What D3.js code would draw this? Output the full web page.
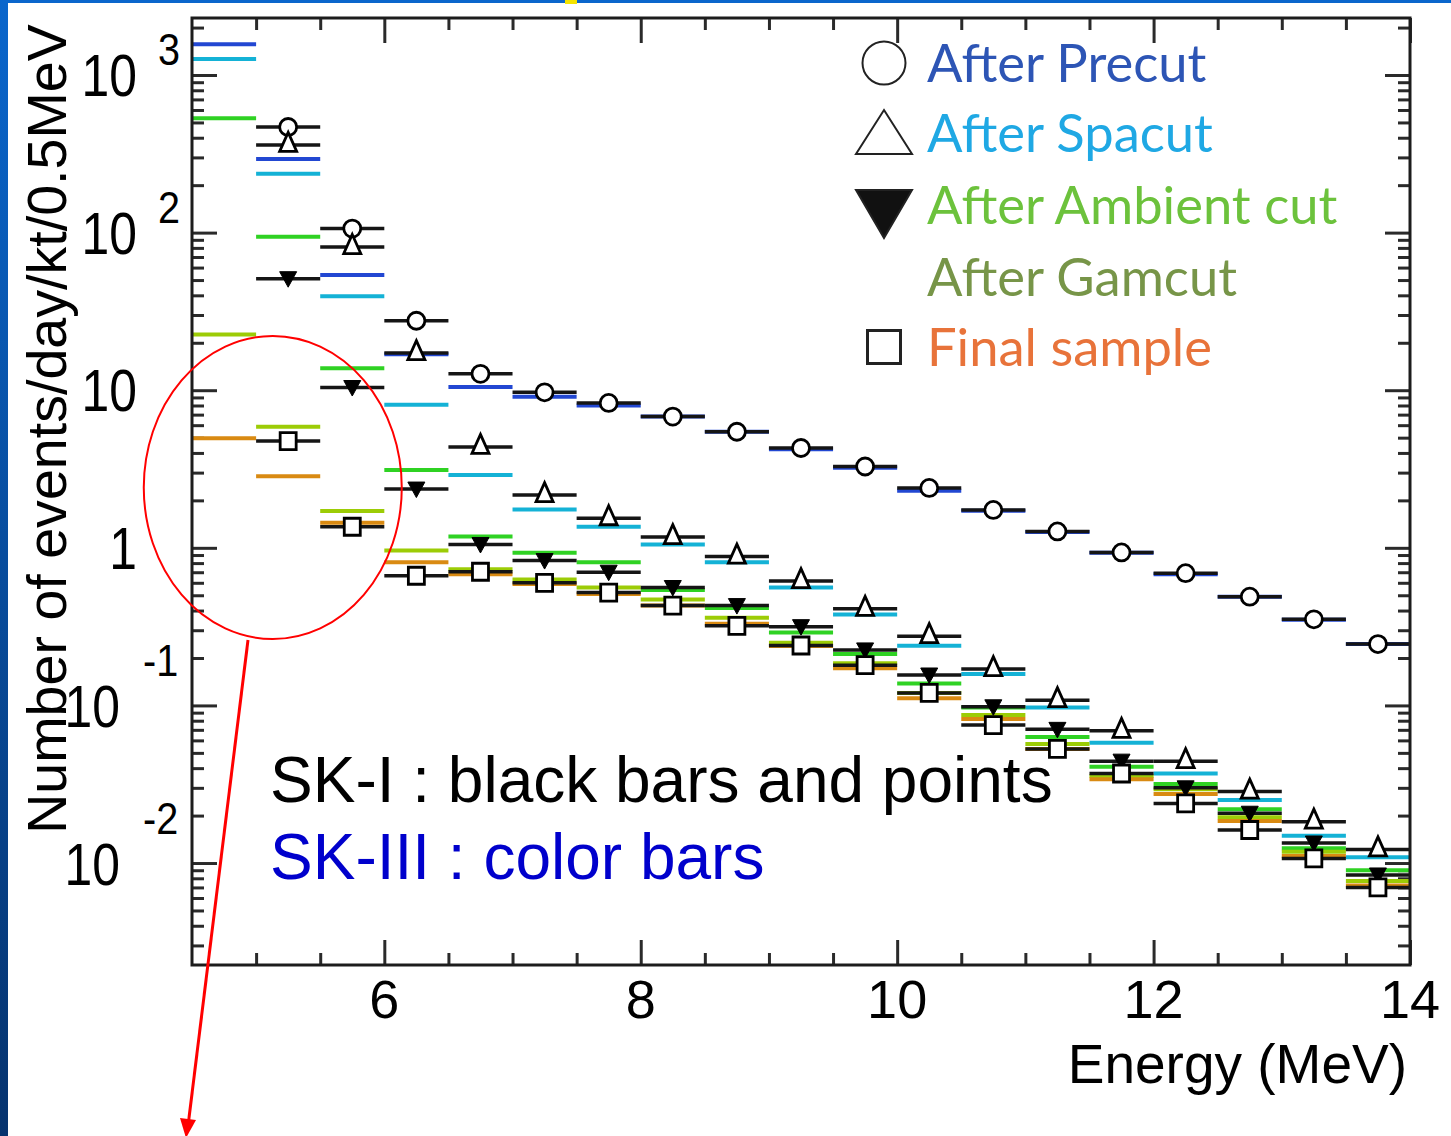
<!DOCTYPE html>
<html>
<head>
<meta charset="utf-8">
<script src="https://cdn.jsdelivr.net/npm/d3@7"></script>
<style>
  html, body { margin: 0; padding: 0; background: #fff; }
  svg { display: block; }
</style>
</head>
<body>
<svg id="chart" width="1451" height="1136"></svg>
<script>
// Energy bins (low edge, MeV); each bin is 0.5 MeV wide
const binLow = [4.5, 5.0, 5.5, 6.0, 6.5, 7.0, 7.5, 8.0, 8.5, 9.0, 9.5, 10.0, 10.5, 11.0, 11.5, 12.0, 12.5, 13.0, 13.5];
const binWidth = 0.5;

// SK-I (black bars + markers), events/day/kt/0.5MeV
const skIPrecut  = [null, 468, 106, 27.6, 12.7, 9.7, 8.3, 6.8, 5.45, 4.3, 3.28, 2.4, 1.74, 1.27, 0.935, 0.69, 0.49, 0.352, 0.245];
const skISpacut  = [null, 360, 81, 17.2, 4.37, 2.16, 1.54, 1.17, 0.88, 0.615, 0.41, 0.275, 0.17, 0.108, 0.069, 0.0443, 0.0284, 0.0183, 0.0122];
const skIAmbient = [null, 51, 10.4, 2.36, 1.05, 0.83, 0.70, 0.56, 0.43, 0.316, 0.225, 0.156, 0.098, 0.0705, 0.0443, 0.030, 0.0207, 0.0134, 0.0084];
const skIFinal   = [null, 4.76, 1.36, 0.665, 0.705, 0.60, 0.52, 0.43, 0.32, 0.24, 0.18, 0.12, 0.075, 0.053, 0.037, 0.0239, 0.0162, 0.0107, 0.0070];

// SK-III (colour bars)
const skIIIPrecut  = [1567, 293, 53.8, 16.9, 10.5, 9.1, 8.0, 6.8, 5.45, 4.22, 3.22, 2.3, 1.72, 1.26, 0.93, 0.68, 0.49, 0.35, 0.245];
const skIIISpacut  = [1263, 236, 39.4, 8.1, 2.90, 1.75, 1.36, 1.05, 0.81, 0.56, 0.378, 0.239, 0.158, 0.097, 0.058, 0.037, 0.0251, 0.0149, 0.0109];
const skIIIAmbient = [531, 94, 13.8, 3.12, 1.18, 0.93, 0.81, 0.54, 0.415, 0.29, 0.212, 0.138, 0.097, 0.063, 0.0408, 0.0317, 0.0219, 0.0124, 0.0090];
const skIIIGamcut  = [22.6, 5.87, 1.71, 0.96, 0.73, 0.63, 0.56, 0.47, 0.36, 0.25, 0.185, 0.12, 0.087, 0.057, 0.0356, 0.0294, 0.0195, 0.0118, 0.0077];
const skIIIFinal   = [4.95, 2.85, 1.44, 0.81, 0.68, 0.59, 0.51, 0.43, 0.33, 0.238, 0.172, 0.111, 0.082, 0.053, 0.034, 0.0274, 0.0185, 0.0111, 0.0072];

// Legend entries and tick labels
const legendLabels = ["After Precut", "After Spacut", "After Ambient cut", "After Gamcut", "Final sample"];
const xTickLabels = ["6", "8", "10", "12", "14"];
const yTickBase = ["10", "10", "10", "1", "10", "10"];
const yTickExp  = ["3", "2", "", "", "-1", "-2"];
const yTickExponent = [3, 2, 1, 0, -1, -2];

const svg = d3.select("#chart");
const W = 1451, H = 1136;
const plot = { left: 192, right: 1410, top: 18, bottom: 965 };
const axisFont = "'Liberation Sans', Arial, Helvetica, sans-serif";

// slide frame
const grad = svg.append("defs").append("linearGradient")
  .attr("id", "edge").attr("x1", 0).attr("y1", 0).attr("x2", 0).attr("y2", 1);
grad.append("stop").attr("offset", "0%").attr("stop-color", "#0a66cc");
grad.append("stop").attr("offset", "100%").attr("stop-color", "#06336e");
svg.append("rect").attr("x", 0).attr("y", 0).attr("width", W).attr("height", H).attr("fill", "#fff");
svg.append("rect").attr("x", 0).attr("y", 0).attr("width", 8).attr("height", H).attr("fill", "url(#edge)");
svg.append("rect").attr("x", 0).attr("y", 0).attr("width", W).attr("height", 3).attr("fill", "#0a66cc");
svg.append("rect").attr("x", 565).attr("y", 0).attr("width", 12).attr("height", 4).attr("fill", "#f5e400");

// scales
const x = d3.scaleLinear().domain([4.5, 14]).range([plot.left, plot.right]);
const y = d3.scaleLog().domain([Math.pow(10, -2.647), Math.pow(10, 3.3617)]).range([plot.bottom, plot.top]);

// axes: ticks drawn inward on all four sides
const xAll = x.ticks(19);
const xMajor = xAll.filter(v => v % 2 === 0 && v > 4.5);
const xMinor = xAll.filter(v => v % 2 !== 0 && v > 4.5 && v < 14);
const yAll = y.ticks();
const isDecade = v => Math.abs(Math.log10(v) - Math.round(Math.log10(v))) < 1e-9;
const yMajor = yAll.filter(isDecade);
const yMinor = yAll.filter(v => !isDecade(v));

function tickGroup(axisFn, scale, values, size, tx, ty) {
  const g = svg.append("g").attr("transform", `translate(${tx},${ty})`)
    .call(axisFn(scale).tickValues(values).tickSize(-size).tickFormat(""));
  g.select(".domain").remove();
  g.selectAll(".tick line").attr("stroke", "#2a2a2a").attr("stroke-width", 3);
}
tickGroup(d3.axisBottom, x, xMajor, 25, 0, plot.bottom);
tickGroup(d3.axisBottom, x, xMinor, 12, 0, plot.bottom);
tickGroup(d3.axisTop, x, xMajor, 25, 0, plot.top);
tickGroup(d3.axisTop, x, xMinor, 12, 0, plot.top);
tickGroup(d3.axisLeft, y, yMajor, 25, plot.left, 0);
tickGroup(d3.axisLeft, y, yMinor, 12, plot.left, 0);
tickGroup(d3.axisRight, y, yMajor, 25, plot.right, 0);
tickGroup(d3.axisRight, y, yMinor, 12, plot.right, 0);

// SK-III colour bars
const bars = svg.append("g");
const colourSeries = [
  { v: skIIIPrecut,  c: "#2247d2" },
  { v: skIIISpacut,  c: "#14b2d6" },
  { v: skIIIAmbient, c: "#2fd223" },
  { v: skIIIGamcut,  c: "#9ccc06" },
  { v: skIIIFinal,   c: "#d98a12" }
];
colourSeries.forEach(s => {
  bars.selectAll(null).data(binLow.map((lo, i) => ({ lo, v: s.v[i] })).filter(d => d.v != null))
    .enter().append("line")
    .attr("x1", d => x(d.lo)).attr("x2", d => x(d.lo + binWidth))
    .attr("y1", d => y(d.v)).attr("y2", d => y(d.v))
    .attr("stroke", s.c).attr("stroke-width", 4);
});

// SK-I black bars
const blackSeries = [
  { v: skIPrecut,  m: "circle" },
  { v: skISpacut,  m: "triUp" },
  { v: skIAmbient, m: "triDown" },
  { v: skIFinal,   m: "square" }
];
blackSeries.forEach(s => {
  bars.selectAll(null).data(binLow.map((lo, i) => ({ lo, v: s.v[i] })).filter(d => d.v != null))
    .enter().append("line")
    .attr("x1", d => x(d.lo)).attr("x2", d => x(d.lo + binWidth))
    .attr("y1", d => y(d.v)).attr("y2", d => y(d.v))
    .attr("stroke", "#151515").attr("stroke-width", 3.5);
});

// marker shapes
const markerPath = {
  circle: "M8.5,0A8.5,8.5 0 1,1 -8.5,0A8.5,8.5 0 1,1 8.5,0Z",
  triUp: "M0,-12.5L8.5,6.5L-8.5,6.5Z",
  triDown: "M-8.5,-7L8.5,-7L0,8.5Z",
  square: "M-8,-8.5H8V8.5H-8Z"
};
const marks = svg.append("g");
blackSeries.forEach(s => {
  marks.selectAll(null).data(binLow.map((lo, i) => ({ lo, v: s.v[i] })).filter(d => d.v != null))
    .enter().append("path")
    .attr("transform", d => `translate(${x(d.lo + binWidth / 2)},${y(d.v)})`)
    .attr("d", markerPath[s.m])
    .attr("fill", s.m === "triDown" ? "#000" : "#fff")
    .attr("stroke", "#000").attr("stroke-width", s.m === "triDown" ? 1 : 2.8);
});

// frame
svg.append("rect")
  .attr("x", plot.left).attr("y", plot.top)
  .attr("width", plot.right - plot.left).attr("height", plot.bottom - plot.top)
  .attr("fill", "none").attr("stroke", "#1c1c1c").attr("stroke-width", 3);

// x tick labels
svg.append("g").selectAll("text").data(xMajor).enter().append("text")
  .attr("x", d => x(d)).attr("y", 1018)
  .attr("text-anchor", "middle")
  .attr("font-family", axisFont).attr("font-size", 54).attr("fill", "#000")
  .text((d, i) => xTickLabels[i]);

svg.append("text")
  .attr("x", 1407).attr("y", 1083).attr("text-anchor", "end")
  .attr("font-family", axisFont).attr("font-size", 55).attr("fill", "#000")
  .text("Energy (MeV)");

// y tick labels (ROOT-style 10^n)
const ylab = svg.append("g").attr("font-family", axisFont).attr("fill", "#000");
yTickExponent.forEach((e, i) => {
  const yy = y(Math.pow(10, e));
  const neg = e < 0;
  const baseRight = neg ? 120 : 137;
  ylab.append("text")
    .attr("transform", `translate(${baseRight},${yy + (neg ? 22 : 21)}) scale(0.83,1)`)
    .attr("text-anchor", "end").attr("font-size", 60)
    .text(yTickBase[i]);
  if (yTickExp[i]) {
    ylab.append("text")
      .attr("transform", `translate(${neg ? 143 : 158},${yy + (neg ? -29 : -10)}) scale(0.9,1)`)
      .attr("font-size", 44)
      .text(yTickExp[i]);
  }
});

svg.append("text")
  .attr("transform", "translate(66,429) rotate(-90)")
  .attr("text-anchor", "middle")
  .attr("font-family", axisFont).attr("font-size", 55.6)
  .attr("fill", "#000")
  .text("Number of events/day/kt/0.5MeV");

// legend
const legendFont = "Lato, 'Open Sans', sans-serif";
const legendColours = ["#2d55b5", "#1fa8e4", "#6cc23c", "#779548", "#e8733a"];
const legendMarks = [
  { t: "circle", d: "M21.5,0A21.5,21.5 0 1,1 -21.5,0A21.5,21.5 0 1,1 21.5,0Z", fill: "#fff" },
  { t: "triUp", d: "M0,-23L28,21L-28,21Z", fill: "#fff" },
  { t: "triDown", d: "M-28,-15L28,-15L0,33Z", fill: "#111" },
  null,
  { t: "square", d: "M-16.5,-16.5H16.5V16.5H-16.5Z", fill: "#fff" }
];
const legendY = [63, 133, 205, 277, 347];
const leg = svg.append("g");
legendLabels.forEach((lab, i) => {
  const m = legendMarks[i];
  if (m) {
    leg.append("path").attr("transform", `translate(884,${legendY[i]})`)
      .attr("d", m.d).attr("fill", m.fill)
      .attr("stroke", "#222").attr("stroke-width", m.t === "square" ? 3 : 2);
  }
  leg.append("text")
    .attr("x", 927).attr("y", legendY[i] + 19)
    .attr("font-family", legendFont).attr("font-size", 52.5)
    .attr("fill", legendColours[i])
    .text(lab);
});

// annotations
const noteFont = "'Liberation Sans', Arial, Helvetica, sans-serif";
svg.append("text").attr("x", 270).attr("y", 802)
  .attr("font-family", noteFont).attr("font-size", 64).attr("fill", "#000")
  .text("SK-I : black bars and points");
svg.append("text").attr("x", 270).attr("y", 879)
  .attr("font-family", noteFont).attr("font-size", 64).attr("fill", "#0000cc")
  .text("SK-III : color bars");

// highlight of the low-energy bins with a pointer downward
svg.append("ellipse")
  .attr("cx", x(4.5 + 0.63)).attr("cy", 487.5).attr("rx", 129).attr("ry", 151.5)
  .attr("fill", "none").attr("stroke", "#ff0000").attr("stroke-width", 2);
svg.append("line")
  .attr("x1", 248).attr("y1", 640).attr("x2", 188.5).attr("y2", 1122)
  .attr("stroke", "#ff0000").attr("stroke-width", 3);
svg.append("path")
  .attr("d", "M186,1138L180,1118L196,1120Z")
  .attr("fill", "#ff0000");
</script>
</body>
</html>
